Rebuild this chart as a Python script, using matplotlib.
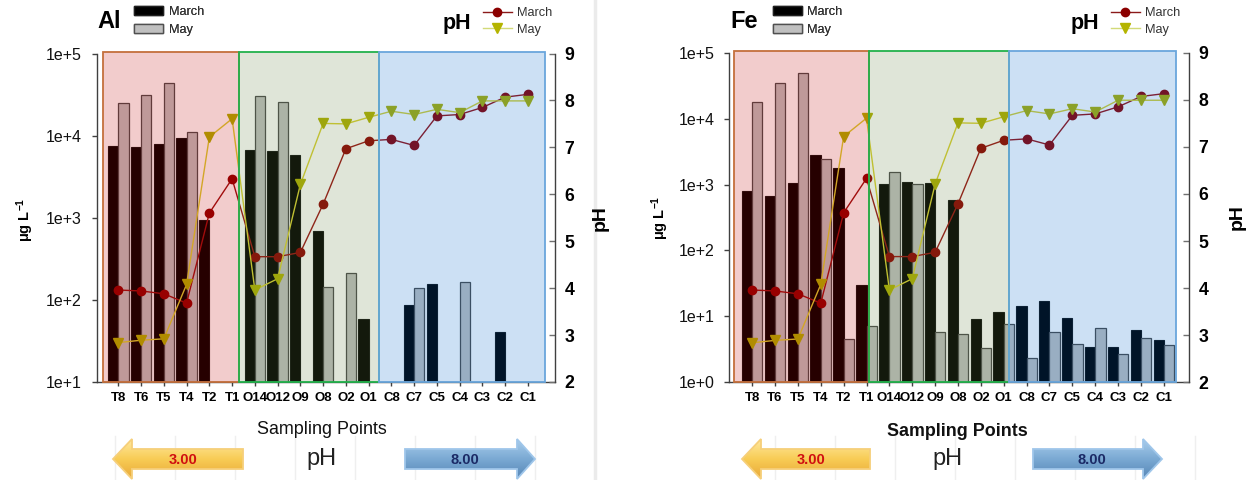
import numpy as np
import matplotlib
matplotlib.use('Agg')
import matplotlib.pyplot as plt
from matplotlib.patches import Rectangle, Polygon, Patch
from matplotlib.lines import Line2D
from matplotlib.colors import LinearSegmentedColormap
from matplotlib.ticker import FixedLocator, NullLocator

plt.rcParams['font.family'] = ['Liberation Sans', 'DejaVu Sans']
plt.rcParams['mathtext.fontset'] = 'custom'
plt.rcParams['mathtext.rm'] = 'Liberation Sans'
plt.rcParams['mathtext.bf'] = 'Liberation Sans:bold'
plt.rcParams['mathtext.it'] = 'Liberation Sans:italic'

# ---------------- data ----------------
sites = ['T8', 'T6', 'T5', 'T4', 'T2', 'T1', 'O14', 'O12', 'O9', 'O8', 'O2', 'O1',
         'C8', 'C7', 'C5', 'C4', 'C3', 'C2', 'C1']
nan = np.nan
al_march = [7550, 7230, 7930, 9370, 950, nan, 6760, 6560, 5820, 690, nan, 59,
            nan, 87, 154, nan, nan, 41, nan]
al_may = [24900, 30900, 43300, 11000, nan, nan, 30100, 25600, nan, 143, 213, nan,
          nan, 138, nan, 164, nan, nan, nan]
fe_march = [800, 671, 1047, 2840, 1790, 29.6, 1010, 1107, 1047, 578, 9.1, 11.8,
            14.2, 17.1, 9.5, 3.4, 3.4, 6.15, 4.43]
fe_may = [18100, 34400, 49400, 2470, 4.6, 7.1, 1570, 1010, 5.8, 5.35, 3.3, 7.6,
          2.3, 5.7, 3.85, 6.6, 2.66, 4.75, 3.64]
ph_march = [3.96, 3.94, 3.88, 3.68, 5.60, 6.33, 4.67, 4.67, 4.76, 5.79, 6.97, 7.14,
            7.17, 7.04, 7.67, 7.70, 7.85, 8.07, 8.13]
ph_may = [2.84, 2.89, 2.92, 4.08, 7.22, 7.61, 3.96, 4.20, 6.21, 7.51, 7.50, 7.64,
          7.77, 7.70, 7.81, 7.74, 7.99, 7.99, 7.99]
al_ticks = [1e1, 1e2, 1e3, 1e4, 1e5]
al_ticklabels = ['1e+1', '1e+2', '1e+3', '1e+4', '1e+5']
fe_ticks = [1e0, 1e1, 1e2, 1e3, 1e4, 1e5]
fe_ticklabels = ['1e+0', '1e+1', '1e+2', '1e+3', '1e+4', '1e+5']
ph_ticks = [2, 3, 4, 5, 6, 7, 8, 9]
arrow_low, arrow_high = '3.00', '8.00'

W, H = 1253, 480
fig = plt.figure(figsize=(W / 100, H / 100), dpi=100)

# background overlay axes in pixel coordinates (decorations)
axo = fig.add_axes([0, 0, 1, 1], zorder=0)
axo.set_xlim(0, W)
axo.set_ylim(H, 0)
axo.axis('off')
axo.plot([595, 595], [0, H], color='#ebebeb', lw=2.5, zorder=0)

ZONE_FILL = ['#bf0000', '#608040', '#0066cc']
ZONE_EDGE = ['#c4703c', '#22b14c', '#6aa6dc']
SPINE = '#404040'


def grad_arrow(pts, colors, edge):
    poly = Polygon(pts, closed=True, facecolor='none', edgecolor=edge, lw=1.3, zorder=3)
    axo.add_patch(poly)
    xs = [p[0] for p in pts]
    ys = [p[1] for p in pts]
    cmap = LinearSegmentedColormap.from_list('g', colors)
    grad = np.linspace(0, 1, 64).reshape(-1, 1)
    im = axo.imshow(grad, extent=(min(xs), max(xs), max(ys), min(ys)), cmap=cmap,
                    aspect='auto', zorder=2, origin='upper', interpolation='bilinear')
    im.set_clip_path(poly)


def bottom_decor(gridxs, la, ra, ph_x):
    for gx in gridxs:
        axo.plot([gx, gx], [436, H], color='#efefef', lw=1, zorder=1)
    l0, l1, l2 = la
    grad_arrow([(l0, 459), (l1, 439), (l1, 449), (l2, 449), (l2, 469), (l1, 469), (l1, 479)],
               ['#ffe9a0', '#f8cc55', '#e8a838'], '#f6cf7a')
    axo.text((l1 + l2) / 2 - 4, 460, arrow_low, color='#d01010', fontsize=10.5,
             fontweight='bold', ha='center', va='center', zorder=4)
    r0, r1, r2 = ra
    grad_arrow([(r0, 449), (r1, 449), (r1, 439), (r2, 459), (r1, 479), (r1, 469), (r0, 469)],
               ['#a9cdec', '#7aa9d3', '#5686b6'], '#9fc6ea')
    axo.text((r0 + r1) / 2 + 4, 460, arrow_high, color='#1b2a66', fontsize=10.5,
             fontweight='bold', ha='center', va='center', zorder=4)
    axo.text(ph_x, 459, 'pH', color='#222222', fontsize=17, ha='center', va='center', zorder=4)


def panel(l, r, t, b, xlim, ylim, yticks, yticklabels, m_vals, y_vals, boxes,
          title, title_x, bar_leg_x, ph_title_x, ph_leg_x, samp_x, samp_y, samp_bold,
          ylab_x, ylab_y, phlab_x):
    ax = fig.add_axes([l / W, 1 - b / H, (r - l) / W, (b - t) / H], zorder=2)
    ax.patch.set_alpha(0)
    ax.set_yscale('log', nonpositive='clip')
    x = np.arange(len(sites))
    bw = 0.45
    ax.bar(x - bw / 2, m_vals, bw, color='black', edgecolor='#101010', lw=0.8, zorder=2)
    ax.bar(x + bw / 2, y_vals, bw, color='#c0c0c0', edgecolor='#4a4a4a', lw=0.9, zorder=2)
    ax.set_xlim(*xlim)
    ax.set_ylim(*ylim)
    ax.yaxis.set_major_locator(FixedLocator(yticks))
    ax.yaxis.set_minor_locator(NullLocator())
    ax.set_yticklabels(yticklabels)
    ax.set_xticks(x)
    ax.set_xticklabels(sites, fontweight='bold', fontsize=9.5)
    ax.tick_params(axis='y', direction='out', length=3.6, width=1, color=SPINE,
                   labelsize=11.5, pad=7, labelcolor='#111111')
    ax.tick_params(axis='x', direction='out', length=3, width=1, color=SPINE, pad=4)
    for s in ['top', 'right']:
        ax.spines[s].set_visible(False)
    for s in ['left', 'bottom']:
        ax.spines[s].set_color(SPINE)
        ax.spines[s].set_linewidth(1)
    ax.set_ylabel(r'μg L$^{\mathbf{-1}}$', fontsize=10.5, fontweight='bold')
    ax.yaxis.set_label_coords(ylab_x, ylab_y)

    ax2 = ax.twinx()
    ax2.set_zorder(3)
    ax2.plot(x, ph_march, color='#9a1010', lw=1, marker='o', ms=6,
             mfc='#8f0000', mec='#8f0000', zorder=5)
    ax2.plot(x, ph_may, color='#d8d030', lw=1, marker='v', ms=7.5,
             mfc='#aeb000', mec='#aeb000', zorder=5)
    ax2.set_ylim(2, 9)
    ax2.set_yticks(ph_ticks)
    ax2.set_yticklabels([str(v) for v in ph_ticks])
    for lab in ax2.get_yticklabels():
        lab.set_fontweight('bold')
    ax2.tick_params(axis='y', direction='in', length=4, width=1, color='#707070',
                    labelsize=12.7, pad=7)
    for s in ['top', 'left', 'bottom']:
        ax2.spines[s].set_visible(False)
    ax2.spines['right'].set_color(SPINE)
    ax2.spines['right'].set_linewidth(1)
    ax2.set_ylabel('pH', fontsize=14, fontweight='bold', rotation=90)
    ax2.yaxis.set_label_coords(phlab_x, 0.5)

    top = 1 + 1.7 / (b - t)
    tr = ax2.get_xaxis_transform()
    for k in range(3):
        x0, x1 = boxes[k], boxes[k + 1]
        ax2.add_patch(Rectangle((x0, 0), x1 - x0, top, transform=tr, facecolor=ZONE_FILL[k],
                                alpha=0.2, edgecolor='none', zorder=8, clip_on=False))
    for k in range(3):
        x0, x1 = boxes[k], boxes[k + 1]
        ax2.add_patch(Rectangle((x0, 0), x1 - x0, top, transform=tr, facecolor='none',
                                edgecolor=ZONE_EDGE[k], lw=1.3, zorder=9, clip_on=False))

    # titles and legends
    fig.text(title_x / W, 1 - 28.5 / H, title, fontsize=17, fontweight='bold', va='baseline')
    fig.text(ph_title_x / W, 1 - 29.3 / H, 'pH', fontsize=15.5, fontweight='bold', va='baseline')
    h_bar = [Patch(facecolor='black', edgecolor='#202020', lw=1),
             Patch(facecolor='#c0c0c0', edgecolor='#505050', lw=1)]
    leg1 = ax.legend(h_bar, ['March', 'May'], loc='center left',
                     bbox_to_anchor=(bar_leg_x / W, 1 - 21.0 / H), bbox_transform=fig.transFigure,
                     frameon=False, fontsize=9.2, labelcolor='#333333', handlelength=2.26,
                     handleheight=0.74, labelspacing=0.42, handletextpad=0.44,
                     borderpad=0, borderaxespad=0)
    ax.add_artist(leg1)
    h_ph = [Line2D([], [], color='#8b1a1a', lw=1, marker='o', ms=6, mfc='#8b0000', mec='#8b0000'),
            Line2D([], [], color='#d2da78', lw=1, marker='v', ms=7, mfc='#b4b400', mec='#b4b400')]
    ax2.legend(h_ph, ['March', 'May'], loc='center left',
               bbox_to_anchor=(ph_leg_x / W, 1 - 21.6 / H), bbox_transform=fig.transFigure,
               frameon=False, fontsize=9.2, labelcolor='#333333', handlelength=2.26,
               labelspacing=0.33, handletextpad=0.44, borderpad=0, borderaxespad=0)
    fig.text(samp_x / W, 1 - samp_y / H, 'Sampling Points', fontsize=12.9,
             fontweight='bold' if samp_bold else 'normal', ha='center', va='center',
             color='#111111')
    return ax, ax2


panel(96.7, 555, 53.5, 382, (-0.95, 19.19), (10, 1e5), al_ticks, al_ticklabels,
      al_march, al_may, [-0.66, 5.32, 11.45, 18.75], 'Al', 97, 134.3, 443, 483,
      322, 430, False, -0.133, 0.493, 1.081)
panel(729.3, 1189, 52.7, 382.3, (-1.0, 19.1), (1, 1e5), fe_ticks, fe_ticklabels,
      fe_march, fe_may, [-0.8, 5.1, 11.24, 18.51], 'Fe', 730, 773, 1071, 1111,
      957, 432, True, -0.127, 0.5, 1.087)

bottom_decor([115, 175, 235, 295, 355, 415, 475, 535], (113, 132, 243), (405, 517, 535), 322)
bottom_decor([775, 835, 895, 955, 1015, 1075, 1135, 1195], (742, 761, 870), (1033, 1143, 1162), 948)

fig.savefig('out.png', dpi=100)
